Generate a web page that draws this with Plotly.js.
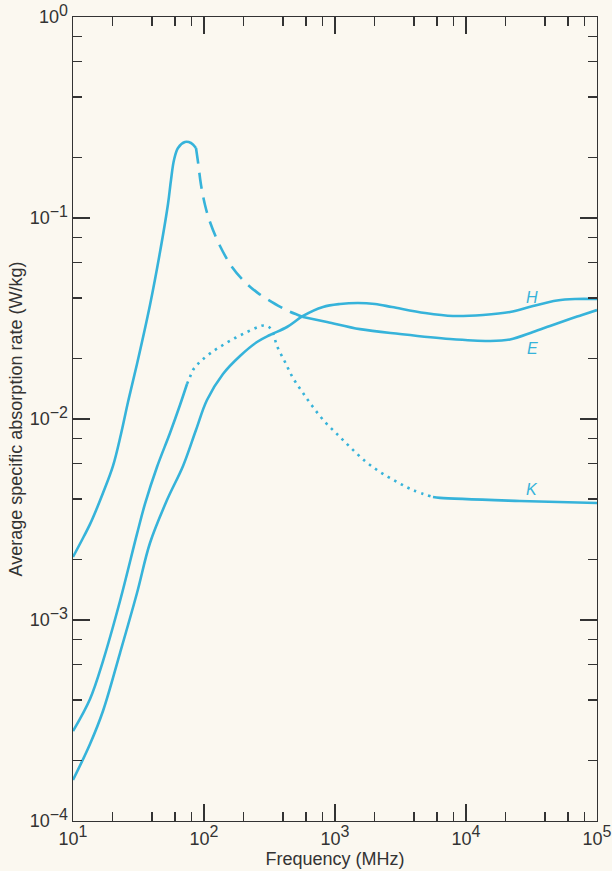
<!DOCTYPE html>
<html>
<head>
<meta charset="utf-8">
<script src="https://cdn.plot.ly/plotly-3.0.1.min.js"></script>
<style>
  html, body { margin: 0; padding: 0; background: #fbf8f0; }
  #chart { width: 612px; height: 871px; }
</style>
</head>
<body>
<div id="chart"></div>
<script>
// ---- Data (frequency in MHz, SAR in W/kg) ----
// Curve E: solid rise, dashed descent past the resonance, solid tail
const freqE_rise = [10, 11.71, 13.49, 15.25, 16.94, 20.2, 23.25, 26.3, 30.8, 38.7, 46.15, 53.11, 55.99, 59.02, 63.33, 71.61, 79.59, 86.87];
const sarE_rise  = [2.06e-3, 2.5e-3, 3.0e-3, 3.61e-3, 4.28e-3, 5.84e-3, 8.42e-3, 0.01215, 0.01878, 0.03692, 0.0677, 0.1174, 0.1546, 0.1944, 0.223, 0.2388, 0.2361, 0.223];
const freqE_dash = [86.87, 90.0, 94.9, 101.8, 111.1, 132.5, 163.6, 205.6, 258.4, 330.4, 437.7, 569.9];
const sarE_dash  = [0.223, 0.19, 0.146, 0.1161, 0.0955, 0.0726, 0.0571, 0.048, 0.0423, 0.0382, 0.0345, 0.0322];
const freqE_tail = [569.9, 868.7, 1551, 3135, 7550, 15250, 21670, 32480, 43770, 59020, 76850, 100000];
const sarE_tail  = [0.0322, 0.0304, 0.028, 0.02648, 0.025, 0.02444, 0.02486, 0.02709, 0.02902, 0.03109, 0.03292, 0.03485];

// Curve K: solid rise, dotted section, solid tail
const freqK_rise = [10, 13.49, 16.94, 22.85, 30.8, 35.44, 43.77, 55.02, 65.58, 74.18];
const sarK_rise  = [2.8e-4, 4.05e-4, 6.25e-4, 1.243e-3, 2.68e-3, 3.78e-3, 5.77e-3, 8.52e-3, 0.01174, 0.01493];
const freqK_dot  = [74.18, 78.18, 82.41, 88.43, 96.55, 115.1, 139.6, 172.5, 212.9, 258.4, 287.1, 313.4, 336.3, 360.8, 415.3, 477.9, 569.9, 679.3, 838.9, 1054, 1302, 1694, 2206, 2974, 3939, 5599];
const sarK_dot   = [0.01493, 0.01618, 0.01753, 0.01856, 0.01965, 0.02154, 0.02334, 0.02529, 0.02709, 0.02869, 0.02919, 0.02869, 0.02679, 0.02307, 0.01921, 0.016, 0.01347, 0.01147, 9.66e-3, 8.33e-3, 7.26e-3, 6.18e-3, 5.45e-3, 4.86e-3, 4.43e-3, 4.09e-3];
const freqK_tail = [5599, 6334, 25800, 100000];
const sarK_tail  = [4.09e-3, 4.05e-3, 3.91e-3, 3.82e-3];

// Curve H: solid throughout
const freqH = [10, 13.49, 16.94, 22.85, 30.8, 38.7, 52.19, 69.17, 86.87, 105.4, 139.6, 188.3, 253.9, 319, 430, 569.9, 809.6, 1092, 1498, 2020, 2724, 4864, 7959, 13490, 21670, 32480, 49520, 67950, 100000];
const sarH  = [1.6e-4, 2.416e-4, 3.526e-4, 6.85e-4, 1.362e-3, 2.416e-3, 3.95e-3, 5.84e-3, 8.82e-3, 0.01243, 0.01675, 0.02058, 0.02415, 0.02618, 0.02869, 0.03255, 0.03607, 0.03733, 0.03776, 0.03733, 0.03607, 0.03369, 0.03255, 0.03292, 0.03406, 0.03649, 0.03886, 0.03954, 0.03954];

// Curve labels
const curveLabels = ['H', 'E', 'K'];

// Tick labels
const xMajorVals = [10, 100, 1000, 10000, 100000];
const xMajorExp  = ['1', '2', '3', '4', '5'];
const yMajorVals = [1e-4, 1e-3, 1e-2, 1e-1, 1];
const yMajorExp  = ['\u22124', '\u22123', '\u22122', '\u22121', '0'];
const minorMultipliers = [2, 4, 6, 8];

// ---- Build ----
const supSize = 16;
const powText = e => '10<sup><span style="font-size:' + supSize + 'px">' + e + '</span></sup>';
const xMinor = [];
[10, 100, 1000, 10000].forEach(d => minorMultipliers.forEach(m => xMinor.push(d * m)));
const yMinor = [];
[1e-4, 1e-3, 1e-2, 1e-1].forEach(d => minorMultipliers.forEach(m => yMinor.push(d * m)));

const lineColor = '#36b3da';
const lw = 2.6;
function seg(x, y, dash) {
  return { x: x, y: y, type: 'scatter', mode: 'lines',
           line: { color: lineColor, width: lw, dash: dash, shape: 'spline', smoothing: 1 },
           hoverinfo: 'skip', showlegend: false };
}

const data = [
  seg(freqE_rise, sarE_rise, 'solid'),
  seg(freqE_dash, sarE_dash, '16px,9px'),
  seg(freqE_tail, sarE_tail, 'solid'),
  seg(freqK_rise, sarK_rise, 'solid'),
  seg(freqK_dot, sarK_dot, '2.5px,5px'),
  seg(freqK_tail, sarK_tail, 'solid'),
  seg(freqH, sarH, 'solid')
];

const axisColor = '#333333';
const fontFam = 'Liberation Sans, Arial, Helvetica, sans-serif';

const labelPos = { H: [31900, 0.0400], E: [31900, 0.0223], K: [31900, 0.00444] };
const annotations = curveLabels.map(name => ({
  x: Math.log10(labelPos[name][0]), y: Math.log10(labelPos[name][1]),
  xref: 'x', yref: 'y', text: name, showarrow: false,
  font: { family: fontFam, size: 16, color: lineColor, style: 'italic' }
}));

const layout = {
  width: 612, height: 871,
  margin: { l: 73, r: 15, t: 17, b: 50, pad: 0 },
  paper_bgcolor: '#fbf8f0', plot_bgcolor: '#fbf8f0',
  showlegend: false,
  xaxis: {
    type: 'log', range: [1, 5], autorange: false,
    tickmode: 'array', tickvals: xMajorVals, ticktext: xMajorExp.map(powText),
    ticks: 'inside', ticklen: 17, tickwidth: 1.3, tickcolor: axisColor,
    minor: { tickmode: 'array', tickvals: xMinor, ticks: 'inside', ticklen: 9, tickwidth: 1.3, tickcolor: axisColor, showgrid: false },
    showline: true, linecolor: axisColor, linewidth: 1.4, mirror: 'ticks',
    showgrid: false, zeroline: false, ticklabelstandoff: 1,
    tickfont: { family: fontFam, size: 18, color: axisColor },
    title: { text: 'Frequency (MHz)', font: { family: fontFam, size: 18, color: axisColor }, standoff: 2 }
  },
  yaxis: {
    type: 'log', range: [-4, 0], autorange: false,
    tickmode: 'array', tickvals: yMajorVals, ticktext: yMajorExp.map(powText),
    ticks: 'inside', ticklen: 17, tickwidth: 1.3, tickcolor: axisColor,
    minor: { tickmode: 'array', tickvals: yMinor, ticks: 'inside', ticklen: 9, tickwidth: 1.3, tickcolor: axisColor, showgrid: false },
    showline: true, linecolor: axisColor, linewidth: 1.4, mirror: 'ticks',
    showgrid: false, zeroline: false,
    tickfont: { family: fontFam, size: 18, color: axisColor },
    title: { text: 'Average specific absorption rate (W/kg)', font: { family: fontFam, size: 18, color: axisColor }, standoff: 2 }
  },
  annotations: annotations
};

Plotly.newPlot('chart', data, layout, { staticPlot: true, displayModeBar: false });
</script>
</body>
</html>
